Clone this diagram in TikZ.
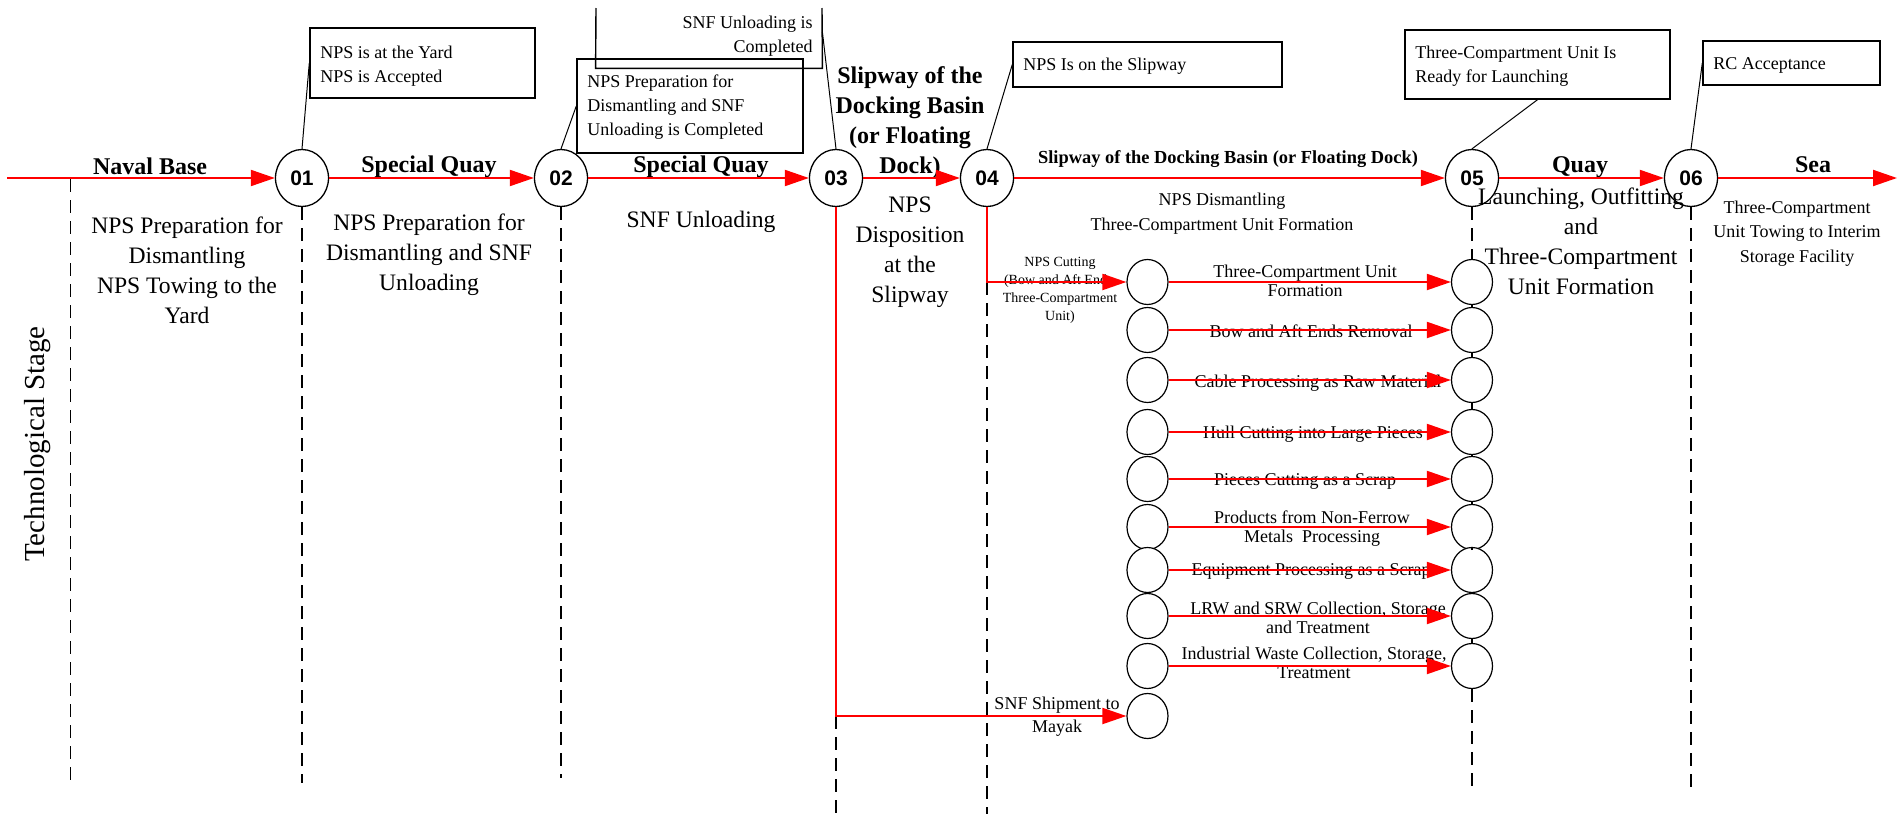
\documentclass[tikz,border=0pt]{standalone}
\usepackage{fontspec}
\setmainfont{Liberation Serif}
\newfontfamily\arialfont{Liberation Sans}
\usetikzlibrary{arrows.meta,shapes.geometric}

\newcommand\hdrfont{\fontsize{12}{15}\selectfont\bfseries}
\newcommand\hdrsmallfont{\fontsize{9.2}{11}\selectfont\bfseries}
\newcommand\bodyfont{\fontsize{11.8}{15}\selectfont}
\newcommand\notefont{\fontsize{9}{12}\selectfont}
\newcommand\rowfont{\fontsize{9}{9.5}\selectfont}
\newcommand\tinyfont{\fontsize{7}{8.85}\selectfont}

\tikzset{
  redline/.style={draw=red, line width=1pt},
  redarrow/.style={redline, -{Triangle[length=12pt,width=8pt]}},
  stage/.style={ellipse, draw, line width=0.65pt, fill=white, minimum width=26.5pt,
    minimum height=28.5pt, inner sep=0pt, font=\arialfont\bfseries\fontsize{10.5}{12}\selectfont},
  subc/.style={ellipse, draw, line width=0.6pt, fill=white, minimum width=20.5pt,
    minimum height=22.5pt, inner sep=0pt},
  calloutbox/.style={draw, line width=0.7pt, inner sep=0pt},
  leader/.style={draw, line width=0.5pt},
  dashline/.style={draw, line width=0.75pt, dash pattern=on 6.5pt off 4pt},
  solidlink/.style={draw, line width=0.6pt},
  hdr/.style={font=\hdrfont, inner sep=0pt, anchor=base},
  hdrsmall/.style={font=\hdrsmallfont, inner sep=0pt, anchor=base},
  body/.style={font=\bodyfont, inner sep=0pt, anchor=base, align=center},
  note/.style={font=\notefont, inner sep=0pt, anchor=base, align=center},
  notetext/.style={font=\notefont, inner sep=0pt, anchor=base west, align=left},
  rowlabel/.style={font=\rowfont, inner sep=0pt, anchor=base, align=center},
}

% Multi-line nodes are placed by the baseline of their last line.
\begin{document}
\begin{tikzpicture}[x=0.5pt, y=-0.5pt]
\useasboundingbox (0,0) rectangle (1903,814);

% ---------- stage circles on the main flow line ----------
\coordinate (start) at (7,178);
\node[stage] (n1) at (302,178) {01};
\node[stage] (n2) at (561,178) {02};
\node[stage] (n3) at (836,178) {03};
\node[stage] (n4) at (987,178) {04};
\node[stage] (n5) at (1472,178) {05};
\node[stage] (n6) at (1691,178) {06};
\coordinate (finish) at (1897,178);

% ---------- operation circles ----------
\foreach \n/\y in {a/282,b/330,c/380,d/432,e/479,f/527,g/570,h/616,i/666,j/716}
  \node[subc] (c1\n) at (1147.5,\y) {};
\foreach \n/\y in {a/282,b/330,c/380,d/432,e/479,f/527,g/570,h/616,i/666}
  \node[subc] (c2\n) at (1472,\y) {};

% ---------- dashed stage boundaries ----------
\coordinate (d0top) at (70.6,179);
\coordinate (d0bot) at (70.6,787);
\coordinate (d1bot) at (302,783);
\coordinate (d2bot) at (561,778);
\coordinate (d3mid) at (836,716);
\coordinate (d3bot) at (836,814);
\coordinate (d4mid) at (987,282);
\coordinate (d4bot) at (987,814);
\coordinate (d5bot) at (1472,792);
\coordinate (d6bot) at (1691,792);
\draw[dashline] (d0top) -- (d0bot);
\draw[dashline] (n1.south) -- (d1bot);
\draw[dashline] (n2.south) -- (d2bot);
\draw[dashline] (d3mid) -- (d3bot);
\draw[dashline] (d4mid) -- (d4bot);
\draw[dashline] (n5.south) -- (c2a.north);
\draw[dashline] (c2i.south) -- (d5bot);
\draw[dashline] (n6.south) -- (d6bot);
\foreach \p/\q in {a/b,b/c,c/d,d/e,e/f,f/g,g/h,h/i}
  \draw[solidlink] (c2\p.south) -- (c2\q.north);

% ---------- callout boxes ----------
\node[calloutbox, minimum width=112.5pt, minimum height=35pt] (b1) at (422.5,63) {};
\node[calloutbox, minimum width=113pt, minimum height=47pt] (b2) at (690,106) {};
\node[inner sep=0pt, minimum width=113pt, minimum height=36pt] (b3) at (709,32) {};
\draw[line width=0.7pt] (596,8) -- (b3.south west) -- (b3.south east) -- (822,8);
\node[calloutbox, minimum width=134.5pt, minimum height=22.5pt] (b4) at (1147.5,64.5) {};
\node[calloutbox, minimum width=132.5pt, minimum height=34.5pt] (b5) at (1537.5,64.5) {};
\node[calloutbox, minimum width=88.5pt, minimum height=22pt] (b6) at (1791.5,63) {};

\node[notetext] (bt1) at (320,82) {NPS is at the Yard\\NPS is Accepted};
\node[notetext] (bt2) at (587,135) {NPS Preparation for\\Dismantling and SNF\\Unloading is Completed};
\node[font=\notefont, inner sep=0pt, anchor=base east, align=right] (bt3) at (813,52) {SNF Unloading is\\Completed};
\node[notetext] (bt4) at (1023,70) {NPS Is on the Slipway};
\node[notetext] (bt5) at (1415,82) {Three-Compartment Unit Is\\Ready for Launching};
\node[notetext] (bt6) at (1713,69) {RC Acceptance};

\draw[leader] (n1.north) -- (b1.west);
\draw[leader] (n2.north) -- (b2.west);
\draw[leader] (n3.north) -- (b3.east);
\draw[leader] (n4.north) -- (b4.west);
\draw[leader] (n5.north) -- (b5.south);
\draw[leader] (n6.north) -- (b6.west);

% ---------- place headings ----------
\node[hdr] (hnb) at (150,174) {Naval Base};
\node[hdr] (hsq1) at (429,172) {Special Quay};
\node[hdr] (hsq2) at (701,172) {Special Quay};
\node[hdr, align=center] (hslip) at (910,173) {Slipway of the\\Docking Basin\\(or Floating\\Dock)};
\node[hdrsmall] (hslip2) at (1228,163) {Slipway of the Docking Basin (or Floating Dock)};
\node[hdr] (hquay) at (1580,172) {Quay};
\node[hdr] (hsea) at (1813,172) {Sea};

% ---------- stage descriptions ----------
\node[body] (s1) at (187,323) {NPS Preparation for\\Dismantling\\NPS Towing to the\\Yard};
\node[body] (s2) at (429,290) {NPS Preparation for\\Dismantling and SNF\\Unloading};
\node[body] (s3) at (701,227) {SNF Unloading};
\node[body] (s4) at (910,302) {NPS\\Disposition\\at the\\Slipway};
\node[note, font=\fontsize{9}{12.5}\selectfont] (s5) at (1222,230) {NPS Dismantling\\Three-Compartment Unit Formation};
\node[body] (s6) at (1581,294) {Launching, Outfitting\\and\\Three-Compartment\\Unit Formation};
\node[note, font=\fontsize{9}{12.25}\selectfont] (s7) at (1797,262) {Three-Compartment\\Unit Towing to Interim\\Storage Facility};

\node[rotate=90, font=\fontsize{14.5}{16}\selectfont, inner sep=0pt] (tech) at (38,444) {Technological Stage};

% ---------- operation labels ----------
\node[font=\tinyfont, inner sep=0pt, anchor=base, align=center] (lcut) at (1060,320)
  {NPS Cutting\\(Bow and Aft Ends,\\Three-Compartment\\Unit)};
\node[rowlabel] (r1) at (1305,296) {Three-Compartment Unit\\Formation};
\node[rowlabel] (r2) at (1311,337) {Bow and Aft Ends Removal};
\node[rowlabel] (r3) at (1318,387) {Cable Processing as Raw Material};
\node[rowlabel] (r4) at (1313,438) {Hull Cutting into Large Pieces};
\node[rowlabel] (r5) at (1305,485) {Pieces Cutting as a Scrap};
\node[rowlabel] (r6) at (1312,542) {Products from Non-Ferrow\\Metals\ \ Processing};
\node[rowlabel] (r7) at (1311,575) {Equipment Processing as a Scrap};
\node[rowlabel] (r8) at (1318,633) {LRW and SRW Collection, Storage\\and Treatment};
\node[rowlabel] (r9) at (1314,678) {Industrial Waste Collection, Storage,\\Treatment};
\node[rowlabel, font=\fontsize{9}{11.5}\selectfont] (r10) at (1057,732) {SNF Shipment to\\Mayak};

% ---------- main flow ----------
\draw[redarrow] (start) -- (n1.west);
\draw[redarrow] (n1.east) -- (n2.west);
\draw[redarrow] (n2.east) -- (n3.west);
\draw[redarrow] (n3.east) -- (n4.west);
\draw[redarrow] (n4.east) -- (n5.west);
\draw[redarrow] (n5.east) -- (n6.west);
\draw[redarrow] (n6.east) -- (finish);

% ---------- branches ----------
\draw[redarrow] (n4.south) |- (c1a.west);
\draw[redarrow] (n3.south) |- (c1j.west);
\foreach \n in {a,b,c,d,e,f,g,h,i}
  \draw[redarrow] (c1\n.east) -- (c2\n.west);
\end{tikzpicture}
\end{document}
